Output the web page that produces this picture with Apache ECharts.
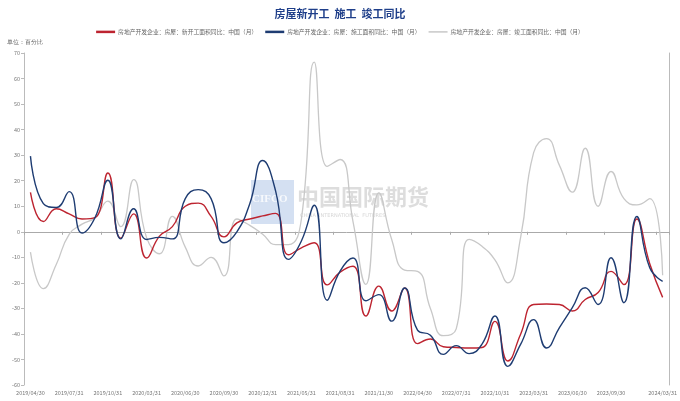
<!DOCTYPE html>
<html>
<head>
<meta charset="utf-8">
<script src="https://cdn.jsdelivr.net/npm/echarts@6/dist/echarts.min.js"></script>
<style>html,body{margin:0;padding:0;background:#fff}#c{width:680px;height:401px}</style>
</head>
<body>
<div id="c"></div>
<script>
var categories = ['2019/04/30','2019/05/31','2019/06/30','2019/07/31','2019/08/31','2019/09/30','2019/10/31','2019/11/30','2019/12/31',
'2020/03/31','2020/04/30','2020/05/31','2020/06/30','2020/07/31','2020/08/31','2020/09/30','2020/10/31','2020/11/30','2020/12/31',
'2021/03/31','2021/04/30','2021/05/31','2021/06/30','2021/07/31','2021/08/31','2021/09/30','2021/10/31','2021/11/30','2021/12/31',
'2022/03/31','2022/04/30','2022/05/31','2022/06/30','2022/07/31','2022/08/31','2022/09/30','2022/10/31','2022/11/30','2022/12/31',
'2023/03/31','2023/04/30','2023/05/31','2023/06/30','2023/07/31','2023/08/31','2023/09/30','2023/10/31','2023/11/30','2023/12/31',
'2024/03/31'];

var newStarts = [15.4,4,9,7,5,5.5,23,-2.5,7,-10.3,
-1.7,2,10,11.2,6,-2,3.5,5,6.2,7.2,
-9,-6.3,-4.3,-20.8,-15.8,-13.5,-33,-21.3,-31,-22,
-43.8,-42,-45,-45.3,-45.5,-45.3,-35.1,-50.6,-40,-28.5,
-28.3,-28.5,-31,-26.5,-23.8,-15.5,-20.7,5,-12.5,-25.7];

var underConstruction = [29.6,11,9.5,15.7,-0.5,5.5,20.2,-2.8,9,-3,
-2.2,-2.8,13,16.5,13,-4.3,0,11,27.9,16,
-10.8,-3.6,10.4,-26.8,-15.4,-10.3,-27,-24.6,-35,-22,
-38.5,-40.5,-48,-44.6,-47.7,-44,-33,-52.7,-44,-34.4,
-45.5,-37.5,-29.7,-21.9,-28.5,-10.2,-27.8,6,-14.1,-19.4];

var completed = [-8,-22.3,-12.8,-1,3,5.5,12,2,20.4,-2.3,
-8.6,6,-6,-13.4,-10,-17.3,5,2.5,-1,-5,
-5,5,66.4,25.6,28.3,4,-20.6,15.2,-3,-15,
-15.5,-30,-40.7,-38,-3,-5.7,-11,-20,-2,31,
36.5,26,15.5,32.7,10,23.6,13,10.5,13,-17];

var seriesNames = ['房地产开发企业：房屋：新开工面积同比：中国（月）','房地产开发企业：房屋：施工面积同比：中国（月）','房地产开发企业：房屋：竣工面积同比：中国（月）'];
var yTicks = {min:-60, max:70, interval:10};

var FONT = '"Noto Sans CJK SC","Noto Sans",sans-serif';
var showLab = function(i){ return (i % 3 === 0 && i !== 48) || i === categories.length - 1; };

var chart = echarts.init(document.getElementById('c'), null, {renderer:'canvas'});
chart.setOption({
  animation:false,
  backgroundColor:'#fff',
  title:{text:'房屋新开工  施工  竣工同比', left:'center', top:3,
    textStyle:{fontSize:11, fontWeight:'bold', color:'#1f3f8a', fontFamily:FONT}},
  legend:{top:24, left:'center', itemWidth:19, itemHeight:6, itemGap:8, symbolKeepAspect:true,
    textStyle:{fontSize:5.8, color:'#666', fontFamily:FONT, padding:[0,0,0,-2]},
    data:[
      {name:seriesNames[0], icon:'path://M0,0h38v5h-38z'},
      {name:seriesNames[1], icon:'path://M0,0h38v5h-38z'},
      {name:seriesNames[2], icon:'path://M0,0h38v3h-38z'}
    ]},
  graphic:[
    {type:'text', left:7, top:39, style:{text:'单位：百分比', fontSize:6, fill:'#666', font:'6px "Noto Sans CJK SC"'}},
    {type:'rect', z:0, shape:{x:251, y:180, width:43, height:44}, style:{fill:'rgba(120,160,215,0.32)'}},
    {type:'text', z:0, x:252, y:194, style:{text:'CIFCO', font:'bold 11px "Liberation Serif"', fill:'rgba(255,255,255,0.8)'}},
    {type:'text', z:0, x:297, y:186, style:{text:'中国国际期货', font:'bold 22px "Noto Sans CJK SC"', fill:'rgba(150,150,150,0.32)'}},
    {type:'text', z:0, x:300, y:213, style:{text:'CHINA  INTERNATIONAL  FUTURES', font:'5px "DejaVu Sans"', fill:'rgba(150,150,150,0.4)'}}
  ],
  grid:{left:24, right:10, top:53, bottom:16, containLabel:false},
  xAxis:[
    {type:'category', data:categories, boundaryGap:true, position:'bottom',
     axisLine:{show:false, onZero:false}, axisTick:{show:false},
     axisLabel:{interval:function(i){return showLab(i);}, fontSize:5.5, color:'#777', margin:5, fontFamily:FONT, showMaxLabel:true},
     splitLine:{show:false}},
    {type:'category', data:categories, boundaryGap:true, position:'bottom',
     axisLine:{show:true, onZero:true, lineStyle:{color:'#aaa', width:1}},
     axisTick:{show:true, interval:function(i){return showLab(i);}, length:3, lineStyle:{color:'#aaa'}},
     axisLabel:{show:false}, splitLine:{show:false}}
  ],
  yAxis:[
    {type:'value', min:yTicks.min, max:yTicks.max, interval:yTicks.interval, position:'left',
     axisLine:{show:true, lineStyle:{color:'#bbb'}}, axisTick:{show:true, length:3, lineStyle:{color:'#bbb'}},
     axisLabel:{fontSize:5.5, color:'#777', margin:4, fontFamily:FONT}, splitLine:{show:false}},
    {type:'value', min:yTicks.min, max:yTicks.max, interval:yTicks.interval, position:'right',
     axisLine:{show:true, lineStyle:{color:'#bbb'}}, axisTick:{show:false}, axisLabel:{show:false}, splitLine:{show:false}}
  ],
  series:[
    {name:seriesNames[2], type:'line', data:completed, smooth:true, symbol:'none', z:2,
     lineStyle:{color:'#c8c8c8', width:1.3}, itemStyle:{color:'#c8c8c8'}},
    {name:seriesNames[0], type:'line', data:newStarts, smooth:true, symbol:'none', z:3,
     lineStyle:{color:'#bd2430', width:1.4}, itemStyle:{color:'#bd2430'}},
    {name:seriesNames[1], type:'line', data:underConstruction, smooth:true, symbol:'none', z:4,
     lineStyle:{color:'#1e3c72', width:1.4}, itemStyle:{color:'#1e3c72'}}
  ]
});
</script>
</body>
</html>
